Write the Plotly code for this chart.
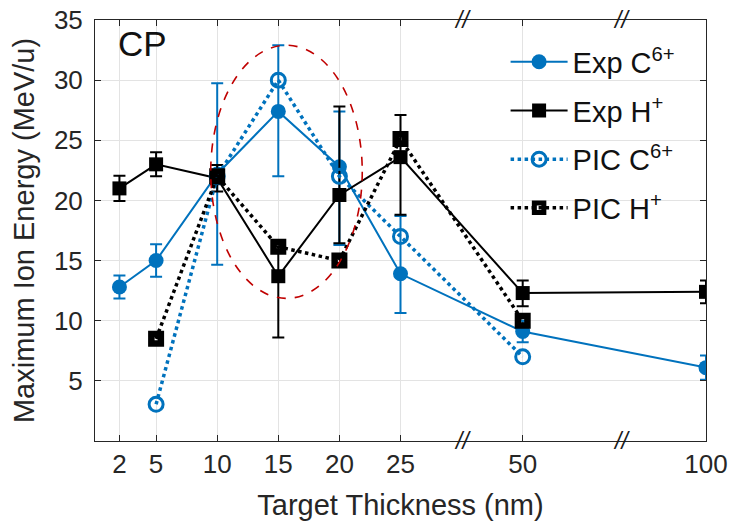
import plotly.graph_objects as go

# Target thickness (nm) and where each sits on the broken x axis
thickness = [2, 5, 10, 15, 20, 25, 50, 100]
axis_pos = {2: 2, 5: 5, 10: 10, 15: 15, 20: 20, 25: 25, 50: 35, 100: 50}
tick_labels = [str(t) for t in thickness]

# Experimental C6+ maximum energy (MeV/u) with asymmetric errors
exp_c = [12.8, 15.0, 22.2, 27.4, 22.8, 13.9, 9.1, 6.1]
exp_c_up = [0.95, 1.35, 7.55, 5.5, 4.6, 4.8, 0.9, 1.0]
exp_c_dn = [0.95, 1.35, 7.55, 5.4, 6.5, 3.25, 0.9, 1.0]

# Experimental H+ maximum energy (MeV/u)
exp_h = [21.0, 23.0, 21.85, 13.7, 20.45, 23.6, 12.3, 12.4]
exp_h_up = [1.05, 1.0, 1.1, 2.5, 7.35, 3.5, 1.05, 0.95]
exp_h_dn = [1.05, 1.0, 1.1, 5.1, 4.0, 4.8, 1.1, 0.95]

# PIC simulations (5-50 nm)
pic_thick = [5, 10, 15, 20, 25, 50]
pic_c = [3.05, 22.0, 30.0, 22.0, 17.0, 7.0]
pic_h = [8.5, 22.0, 16.15, 15.0, 25.1, 10.0]

BLUE = "#0072BD"
BLACK = "#000000"
FONT = "Liberation Sans, Arial, Helvetica, sans-serif"
TXT = "#262626"

def xpos(ts):
    return [axis_pos[t] for t in ts]

fig = go.Figure()

fig.add_trace(go.Scatter(
    x=xpos(thickness), y=exp_c, mode="lines+markers", name="Exp C<sup>6+</sup>",
    line=dict(color=BLUE, width=2),
    marker=dict(symbol="circle", size=15, color=BLUE),
    error_y=dict(type="data", symmetric=False, array=exp_c_up, arrayminus=exp_c_dn,
                 color=BLUE, thickness=2, width=6),
    legendgroup="a",
))
fig.add_trace(go.Scatter(
    x=xpos(thickness), y=exp_h, mode="lines+markers", name="Exp H<sup>+</sup>",
    line=dict(color=BLACK, width=2),
    marker=dict(symbol="square", size=14, color=BLACK),
    error_y=dict(type="data", symmetric=False, array=exp_h_up, arrayminus=exp_h_dn,
                 color=BLACK, thickness=2, width=6),
    legendgroup="b",
))
fig.add_trace(go.Scatter(
    x=xpos(pic_thick), y=pic_c, mode="lines+markers", name="PIC C<sup>6+</sup>",
    line=dict(color=BLUE, width=3.5, dash="dot"),
    marker=dict(symbol="circle-open", size=14, color=BLUE, line=dict(width=3)),
    legendgroup="c",
))
fig.add_trace(go.Scatter(
    x=xpos(pic_thick), y=pic_h, mode="lines+markers", name="PIC H<sup>+</sup>",
    line=dict(color=BLACK, width=3.5, dash="dot"),
    marker=dict(symbol="square-open", size=9.5, color=BLACK, line=dict(width=6.5)),
    legendgroup="d",
))

# Highlight of the 10-20 nm region
fig.add_shape(type="circle", xref="x", yref="y", x0=9.47, x1=21.87, y0=11.86, y1=32.9,
              line=dict(color="#C00000", width=1.6, dash="dash"))

# Axis break marks on the top and bottom edges
for bx in [30.1, 43.1]:
    for yy in [0, 1]:
        fig.add_annotation(x=bx, xref="x", y=yy, yref="paper", text="<i>//</i>", showarrow=False,
                           font=dict(family=FONT, size=23, color="#1a1a1a"),
                           xanchor="center", yanchor="middle")

fig.add_annotation(x=0.035, xref="paper", y=0.943, yref="paper", text="CP", showarrow=False,
                   font=dict(family=FONT, size=35, color="#111111"),
                   xanchor="left", yanchor="middle")

axis_common = dict(
    showline=True, linecolor=TXT, linewidth=1, mirror="allticks",
    ticks="inside", ticklen=6, tickcolor=TXT, automargin=False,
    showgrid=True, gridcolor="#E3E3E3", gridwidth=1, zeroline=False,
    tickfont=dict(family=FONT, size=26, color=TXT),
)

fig.update_xaxes(
    range=[0, 50], tickmode="array", tickvals=xpos(thickness), ticktext=tick_labels,
    title=dict(text="Target Thickness (nm)", font=dict(family=FONT, size=29, color=TXT), standoff=16),
    **axis_common,
)
fig.update_yaxes(
    range=[0, 35], tickmode="array", tickvals=[5, 10, 15, 20, 25, 30, 35],
    title=dict(text="Maximum Ion Energy (MeV/u)", font=dict(family=FONT, size=29, color=TXT), standoff=10),
    ticklabelstandoff=6,
    **axis_common,
)

fig.update_layout(
    width=734, height=527,
    margin=dict(l=95, r=28, t=20, b=86),
    plot_bgcolor="white", paper_bgcolor="white",
    font=dict(family=FONT, color=TXT),
    legend=dict(x=0.672, y=0.961, xanchor="left", yanchor="top",
                bgcolor="rgba(0,0,0,0)", font=dict(family=FONT, size=29, color="#111111"),
                tracegroupgap=8, itemwidth=57),
    showlegend=True,
)

fig.write_html("out.html")
